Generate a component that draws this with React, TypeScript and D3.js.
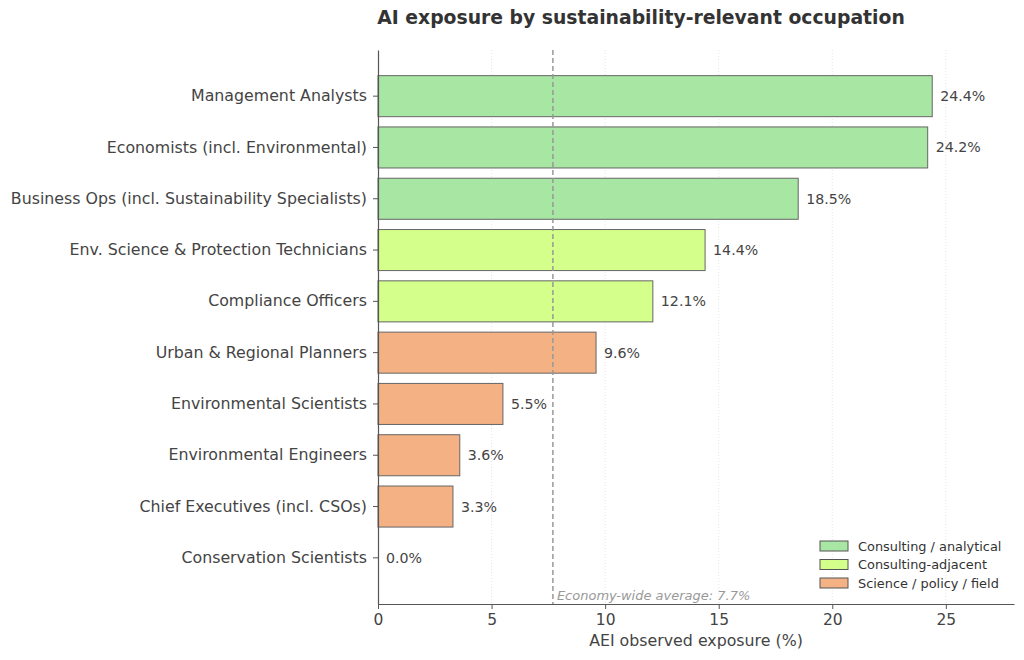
import React, { useEffect, useRef } from 'react';
import * as d3 from 'd3';

const occupations = [
  'Management Analysts',
  'Economists (incl. Environmental)',
  'Business Ops (incl. Sustainability Specialists)',
  'Env. Science & Protection Technicians',
  'Compliance Officers',
  'Urban & Regional Planners',
  'Environmental Scientists',
  'Environmental Engineers',
  'Chief Executives (incl. CSOs)',
  'Conservation Scientists',
];
const exposure = [24.4, 24.2, 18.5, 14.4, 12.1, 9.6, 5.5, 3.6, 3.3, 0.0];
const groups = [
  'Consulting / analytical',
  'Consulting / analytical',
  'Consulting / analytical',
  'Consulting-adjacent',
  'Consulting-adjacent',
  'Science / policy / field',
  'Science / policy / field',
  'Science / policy / field',
  'Science / policy / field',
  'Science / policy / field',
];
const groupNames = ['Consulting / analytical', 'Consulting-adjacent', 'Science / policy / field'];
const groupColors = ['#a8e6a3', '#d4ff8a', '#f4b183'];
const xTicks = [0, 5, 10, 15, 20, 25];
const economyAverage = 7.7;

const W = 1024;
const H = 660;
const FONT = 'DejaVu Sans, sans-serif';

const App = () => {
  const ref = useRef<SVGSVGElement>(null);

  useEffect(() => {
    const margin = { top: 50, right: 10, bottom: 56, left: 378 };
    const innerW = W - margin.left - margin.right;
    const innerH = H - margin.top - margin.bottom;

    const svg = d3.select(ref.current);
    svg.selectAll('*').remove();

    svg.append('text')
      .attr('x', 641)
      .attr('y', 24)
      .attr('text-anchor', 'middle')
      .style('font-family', FONT)
      .style('font-size', '18.8px')
      .style('font-weight', 'bold')
      .style('fill', '#333')
      .text('AI exposure by sustainability-relevant occupation');

    const g = svg.append('g').attr('transform', `translate(${margin.left},${margin.top})`);

    const x = d3.scaleLinear().domain([0, 28]).range([0, innerW]);
    const y = d3.scaleBand<string>()
      .domain(occupations)
      .range([0, innerH])
      .paddingInner(0.2)
      .paddingOuter(0.5);
    const color = d3.scaleOrdinal<string, string>().domain(groupNames).range(groupColors);

    // dotted vertical grid
    g.selectAll('line.grid')
      .data(xTicks.filter(t => t > 0))
      .enter().append('line')
      .attr('class', 'grid')
      .attr('x1', d => x(d)).attr('x2', d => x(d))
      .attr('y1', 0).attr('y2', innerH)
      .attr('stroke', '#ddd')
      .attr('stroke-width', 0.8)
      .attr('stroke-dasharray', '1,2');

    // bars
    g.selectAll('rect.bar')
      .data(occupations)
      .enter().append('rect')
      .attr('class', 'bar')
      .attr('x', x(0))
      .attr('y', d => y(d)!)
      .attr('width', (d, i) => x(exposure[i]) - x(0))
      .attr('height', y.bandwidth())
      .attr('fill', (d, i) => color(groups[i]))
      .attr('stroke', '#666')
      .attr('stroke-width', 1);

    // value labels
    g.selectAll('text.val')
      .data(occupations)
      .enter().append('text')
      .attr('class', 'val')
      .attr('x', (d, i) => x(exposure[i]) + 8)
      .attr('y', d => y(d)! + y.bandwidth() / 2)
      .attr('dy', '0.35em')
      .style('font-family', FONT)
      .style('font-size', '14.2px')
      .style('fill', '#444')
      .text((d, i) => `${exposure[i].toFixed(1)}%`);

    // economy-wide average
    g.append('line')
      .attr('x1', x(economyAverage)).attr('x2', x(economyAverage))
      .attr('y1', 0).attr('y2', innerH)
      .attr('stroke', '#999')
      .attr('stroke-width', 1.5)
      .attr('stroke-dasharray', '5,3');

    g.append('text')
      .attr('x', x(economyAverage) + 4)
      .attr('y', innerH - 4)
      .style('font-family', FONT)
      .style('font-size', '13px')
      .style('font-style', 'italic')
      .style('fill', '#999')
      .text(`Economy-wide average: ${economyAverage}%`);

    // x axis
    const xAxis = g.append('g')
      .attr('transform', `translate(0,${innerH})`)
      .call(d3.axisBottom(x).tickValues(xTicks).tickSize(5).tickPadding(5).tickSizeOuter(0));
    xAxis.select('.domain').attr('stroke', '#555').attr('stroke-width', 1.2);
    xAxis.selectAll('.tick line').attr('stroke', '#555');
    xAxis.selectAll('.tick text')
      .style('font-family', FONT)
      .style('font-size', '15.5px')
      .style('fill', '#444');

    g.append('text')
      .attr('x', x(14))
      .attr('y', innerH + 42)
      .attr('text-anchor', 'middle')
      .style('font-family', FONT)
      .style('font-size', '15.8px')
      .style('fill', '#444')
      .text('AEI observed exposure (%)');

    // y axis
    const yAxis = g.append('g')
      .call(d3.axisLeft(y).tickSize(5).tickPadding(6).tickSizeOuter(0));
    yAxis.select('.domain').attr('stroke', '#555').attr('stroke-width', 1.2);
    yAxis.selectAll('.tick line').attr('stroke', '#555');
    yAxis.selectAll('.tick text')
      .style('font-family', FONT)
      .style('font-size', '15.8px')
      .style('fill', '#444');

    // legend
    const legend = svg.append('g').attr('transform', 'translate(820,541)');
    groupNames.forEach((name, i) => {
      const row = legend.append('g').attr('transform', `translate(0,${i * 18.5})`);
      row.append('rect')
        .attr('width', 28)
        .attr('height', 10)
        .attr('fill', groupColors[i])
        .attr('stroke', '#555')
        .attr('stroke-width', 1);
      row.append('text')
        .attr('x', 38)
        .attr('y', 5)
        .attr('dy', '0.35em')
        .style('font-family', FONT)
        .style('font-size', '12.9px')
        .style('fill', '#333')
        .text(name);
    });
  }, []);

  return (
    <svg ref={ref} width={W} height={H} style={{ position: 'absolute', left: 0, top: 0, background: '#fff' }} />
  );
};

export default App;
